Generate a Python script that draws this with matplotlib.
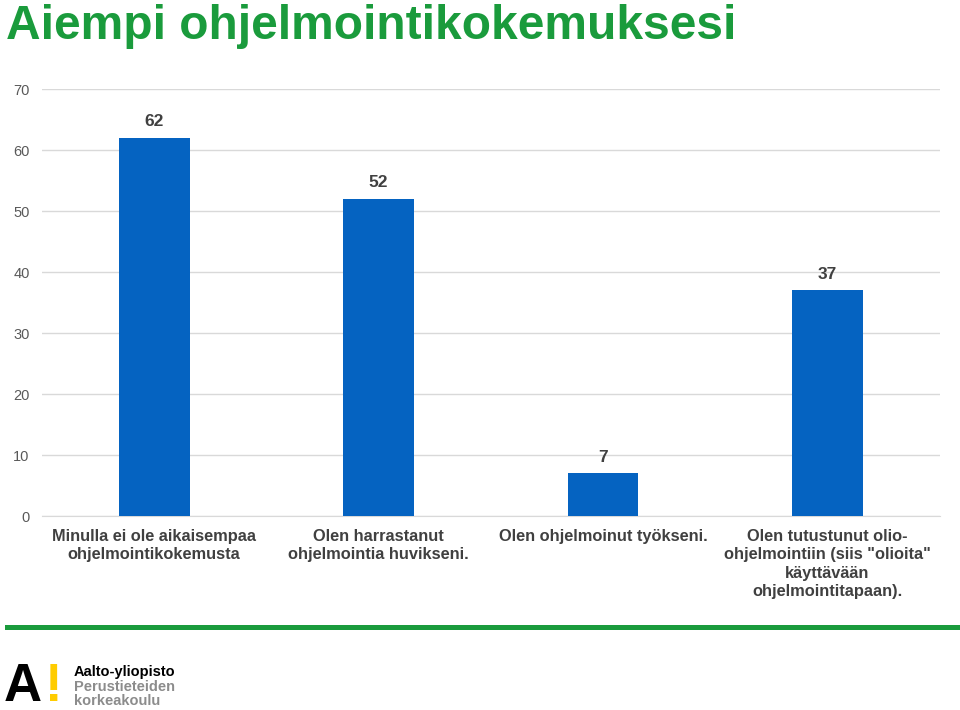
import matplotlib
matplotlib.use('Agg')
import matplotlib.pyplot as plt
from matplotlib.patches import Rectangle

plt.rcParams['font.family'] = ['Liberation Sans', 'DejaVu Sans']

# data
categories = [
    "Minulla ei ole aikaisempaa\nohjelmointikokemusta",
    "Olen harrastanut\nohjelmointia huvikseni.",
    "Olen ohjelmoinut työkseni.",
    "Olen tutustunut olio-\nohjelmointiin (siis \"olioita\"\nkäyttävään\nohjelmointitapaan).",
]
values = [62, 52, 7, 37]
yticks = [0, 10, 20, 30, 40, 50, 60, 70]

BAR_COLOR = '#0563C1'
GREEN = '#1A9B3C'
GRID = '#D9D9D9'

fig = plt.figure(figsize=(9.6, 7.1), dpi=100)
ax = fig.add_axes([0.04375, 0.2732, 0.935, 0.6014])

x = range(len(values))
bars = ax.bar(x, values, width=0.315, color=BAR_COLOR, zorder=3)
for b, v in zip(bars, values):
    ax.annotate(str(v), (b.get_x() + b.get_width() / 2, v),
                xytext=(0, 6), textcoords='offset points',
                ha='center', va='bottom', fontsize=12.5, fontweight='bold',
                color='#404040')

ax.set_xlim(-0.5, len(values) - 0.5)
ax.set_ylim(0, 70)
ax.set_yticks(yticks)
ax.set_xticks(list(x))
ax.set_xticklabels(categories, fontsize=11.8, fontweight='bold',
                   color='#404040', linespacing=1.3)
ax.tick_params(axis='y', labelsize=10.5, colors='#595959', length=0, pad=9)
ax.tick_params(axis='x', length=0, pad=9)
ax.grid(axis='y', color=GRID, linewidth=1, zorder=0)
for s in ['top', 'right', 'left']:
    ax.spines[s].set_visible(False)
ax.spines['bottom'].set_color(GRID)

# title
fig.text(0.006, 0.995, "Aiempi ohjelmointikokemuksesi", fontsize=34.5,
         fontweight='bold', color=GREEN, ha='left', va='top')

# green footer line
fig.add_artist(Rectangle((0.005, 0.112), 0.995, 0.008,
                         transform=fig.transFigure, color=GREEN, lw=0))

# logo
fig.text(0.004, 0.013, "A", fontsize=38, fontweight='bold', color='black',
         ha='left', va='baseline')
fig.text(0.047, 0.013, "!", fontsize=38, fontweight='bold', color='#FFCC00',
         ha='left', va='baseline')
fig.text(0.077, 0.0535, "Aalto-yliopisto", fontsize=10.5, fontweight='bold',
         color='black', ha='left', va='center')
fig.text(0.077, 0.0324, "Perustieteiden", fontsize=10.5, fontweight='bold',
         color='#8C8C8C', ha='left', va='center')
fig.text(0.077, 0.0127, "korkeakoulu", fontsize=10.5, fontweight='bold',
         color='#8C8C8C', ha='left', va='center')

plt.savefig('out.png', dpi=100)
